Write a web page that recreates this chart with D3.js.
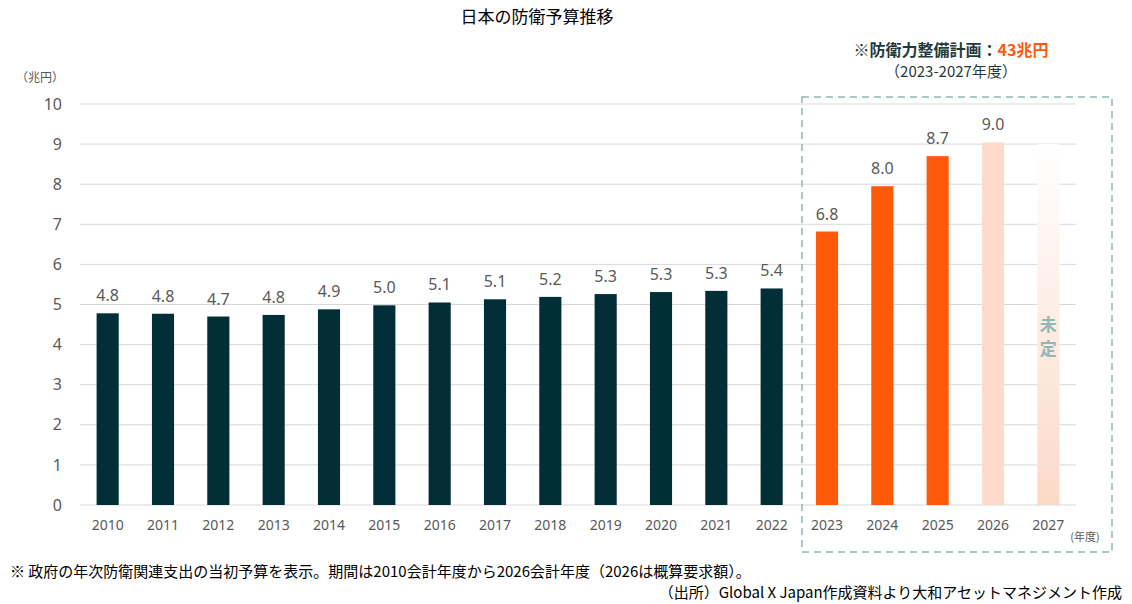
<!DOCTYPE html>
<html><head><meta charset="utf-8">
<script src="https://cdn.jsdelivr.net/npm/d3@7"></script>
<style>body{margin:0;background:#fff;font-family:"Noto Sans CJK JP","Noto Sans",sans-serif}</style>
</head><body><svg id="chart"></svg>
<script>
// 年度・予算（兆円）
const years = ["2010","2011","2012","2013","2014","2015","2016","2017","2018","2019","2020","2021","2022","2023","2024","2025","2026","2027"];
const values = [4.78,4.77,4.70,4.74,4.88,4.98,5.05,5.13,5.19,5.26,5.31,5.34,5.40,6.82,7.95,8.70,9.04,9.0];
const labels = ["4.8","4.8","4.7","4.8","4.9","5.0","5.1","5.1","5.2","5.3","5.3","5.3","5.4","6.8","8.0","8.7","9.0",""];
const kinds = ["past","past","past","past","past","past","past","past","past","past","past","past","past","plan","plan","plan","request","undecided"];
const yTicks = [0,1,2,3,4,5,6,7,8,9,10];

const width = 1132, height = 604;
const svg = d3.select("#chart").attr("width", width).attr("height", height);

const x = d3.scaleBand().domain(years).range([80, 1076]).paddingInner(0.6).paddingOuter(0.3);
const y = d3.scaleLinear().domain([0, 10]).range([505, 104]);

const defs = svg.append("defs");
const grad = defs.append("linearGradient").attr("id", "fade").attr("x1", 0).attr("y1", 1).attr("x2", 0).attr("y2", 0);
grad.append("stop").attr("offset", "0%").attr("stop-color", "#fcd9c8");
grad.append("stop").attr("offset", "100%").attr("stop-color", "#fff");

// グリッド
svg.append("g").selectAll("line").data(yTicks).enter().append("line")
  .attr("x1", 80).attr("x2", 1076)
  .attr("y1", d => y(d)).attr("y2", d => y(d))
  .attr("stroke", "#d9d9d9").attr("stroke-width", 1);

// Y軸
const yAxis = d3.axisLeft(y).tickValues(yTicks).tickSize(0).tickPadding(0);
svg.append("g").attr("transform", "translate(62,0)").call(yAxis)
  .call(g => g.select(".domain").remove())
  .selectAll("text").attr("fill", "#595959").attr("font-size", 16).attr("font-family", "Noto Sans");
svg.append("text").attr("x", 40).attr("y", 82).attr("text-anchor", "middle")
  .attr("font-size", 12).attr("fill", "#595959").text("（兆円）");

// 棒
const colors = { past: "#022f37", plan: "#ff5a0a", request: "#fddac9", undecided: "url(#fade)" };
svg.append("g").selectAll("rect").data(years).enter().append("rect")
  .attr("x", d => x(d)).attr("width", x.bandwidth())
  .attr("y", (d, i) => y(values[i])).attr("height", (d, i) => y(0) - y(values[i]))
  .attr("fill", (d, i) => colors[kinds[i]]);

svg.append("g").selectAll("text").data(years).enter().append("text")
  .attr("x", d => x(d) + x.bandwidth() / 2)
  .attr("y", (d, i) => y(values[i]) - 12)
  .attr("text-anchor", "middle").attr("font-size", 16).attr("fill", "#595959")
  .attr("font-family", "Noto Sans")
  .text((d, i) => labels[i]);

// X軸
const xAxis = d3.axisBottom(x).tickSize(0).tickPadding(0);
svg.append("g").attr("transform", "translate(0,519)").call(xAxis)
  .call(g => g.select(".domain").remove())
  .selectAll("text").attr("fill", "#595959").attr("font-size", 14).attr("font-family", "Noto Sans").attr("dy", "0.8em");
svg.append("text").attr("x", 1085).attr("y", 541).attr("text-anchor", "middle")
  .attr("font-size", 11).attr("fill", "#595959").text("(年度)");

// 未定
const x27 = x("2027") + x.bandwidth() / 2;
svg.append("text").attr("x", x27).attr("y", 331).attr("text-anchor", "middle")
  .attr("font-size", 17).attr("font-weight", "bold").attr("fill", "#8fb8b8").text("未");
svg.append("text").attr("x", x27).attr("y", 355).attr("text-anchor", "middle")
  .attr("font-size", 17).attr("font-weight", "bold").attr("fill", "#8fb8b8").text("定");

// 計画枠
svg.append("rect").attr("x", 802).attr("y", 97).attr("width", 310).attr("height", 455)
  .attr("fill", "none").attr("stroke", "#8fb8b8").attr("stroke-width", 1.5).attr("stroke-dasharray", "7,5");

const t1 = svg.append("text").attr("x", 951).attr("y", 56).attr("text-anchor", "middle")
  .attr("font-size", 16).attr("font-weight", "bold");
t1.append("tspan").attr("fill", "#1f3a3d").text("※防衛力整備計画：");
t1.append("tspan").attr("fill", "#ff5a0a").text("43兆円");
svg.append("text").attr("x", 951).attr("y", 77).attr("text-anchor", "middle")
  .attr("font-size", 15).attr("fill", "#1f3a3d").text("（2023-2027年度）");

// タイトル
svg.append("text").attr("x", 537).attr("y", 23).attr("text-anchor", "middle")
  .attr("font-size", 17).attr("fill", "#000").text("日本の防衛予算推移");

// 注記
svg.append("text").attr("x", 10).attr("y", 577).attr("font-size", 15).attr("fill", "#000")
  .text("※ 政府の年次防衛関連支出の当初予算を表示。期間は2010会計年度から2026会計年度（2026は概算要求額）。");
svg.append("text").attr("x", 1122).attr("y", 598).attr("text-anchor", "end").attr("font-size", 15).attr("fill", "#000")
  .text("（出所）Global X Japan作成資料より大和アセットマネジメント作成");
</script></body></html>
